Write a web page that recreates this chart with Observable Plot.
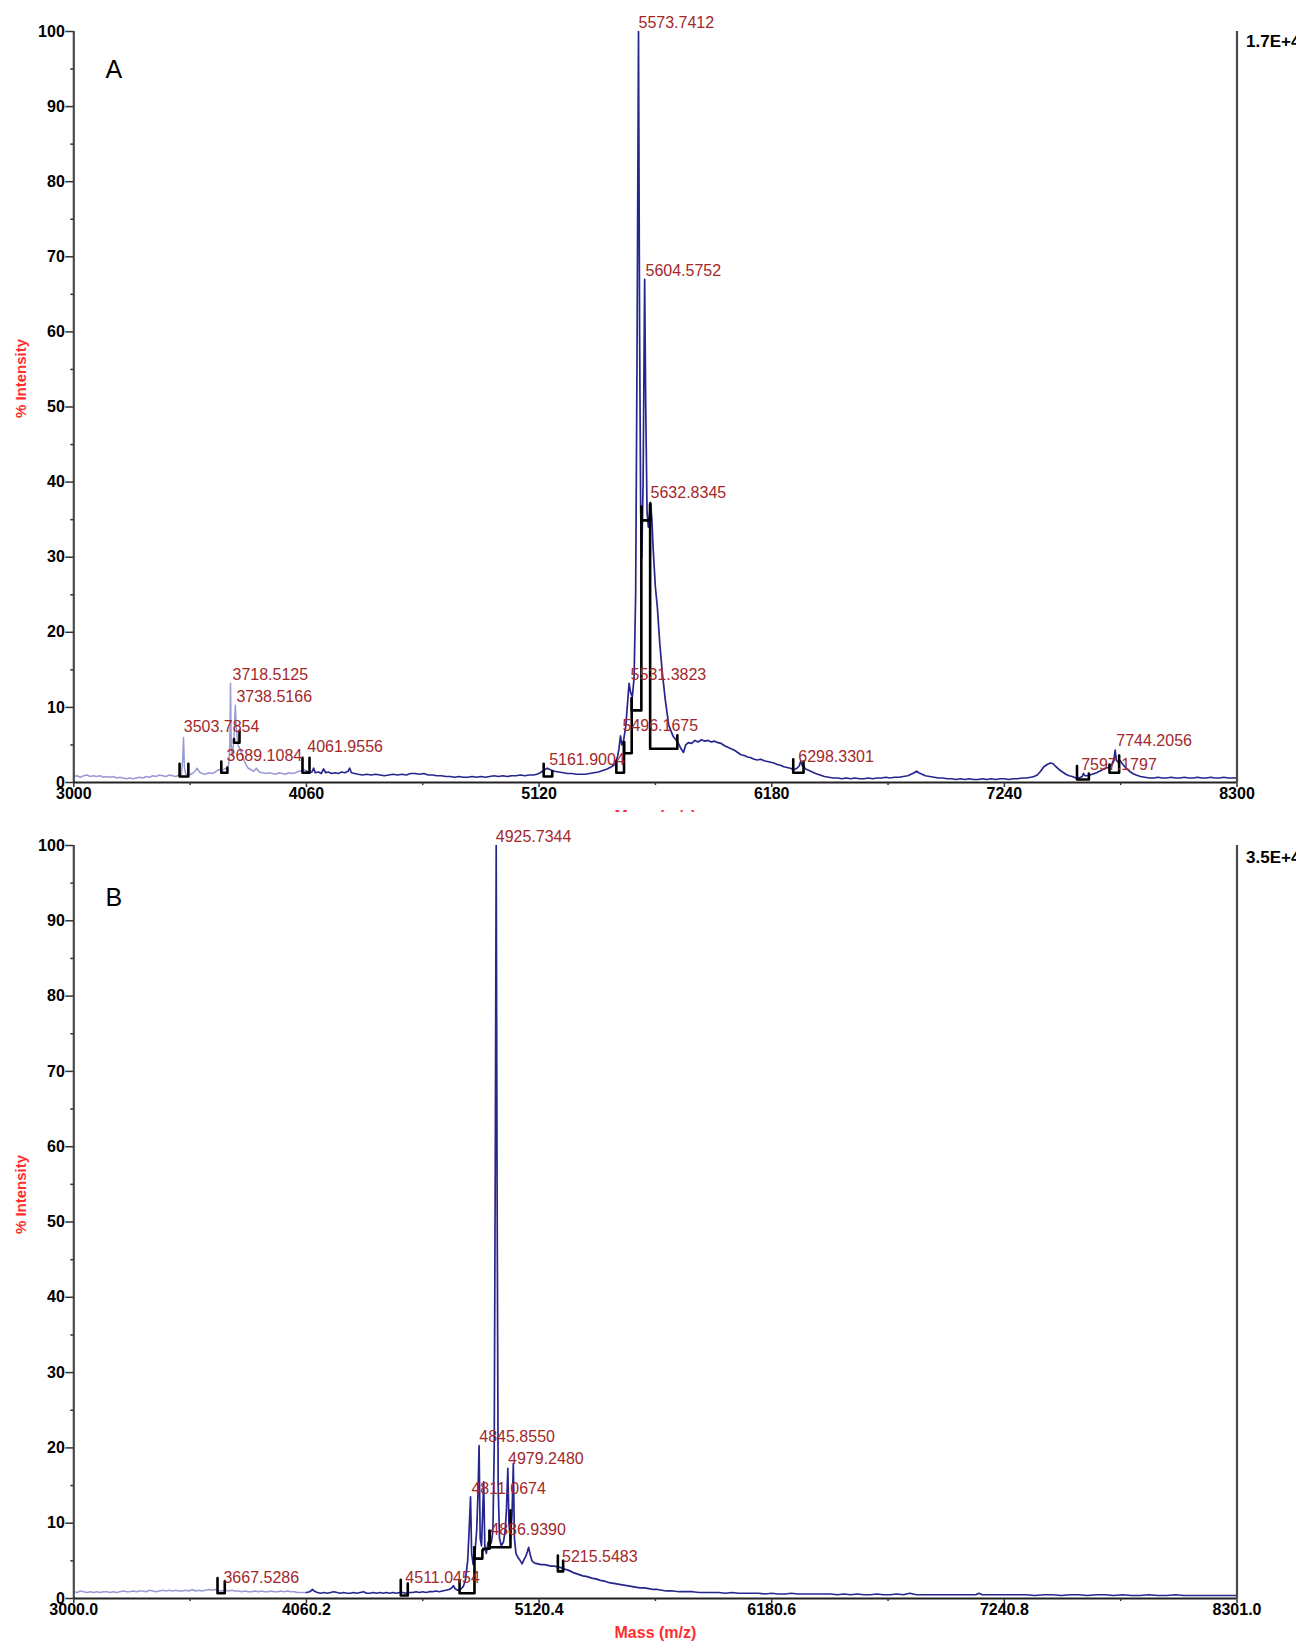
<!DOCTYPE html>
<html><head><meta charset="utf-8">
<script src="https://cdn.jsdelivr.net/npm/d3@7"></script>
<script src="https://cdn.jsdelivr.net/npm/@observablehq/plot@0.6"></script>
<style>
html,body{margin:0;padding:0;background:#fff;overflow:hidden;width:1296px;}
svg{display:block;}
</style></head><body><div id="chart"></div>
<script>
// ---------- axis values ----------
const yMajor = [0,10,20,30,40,50,60,70,80,90,100];
const yMinor = [5,15,25,35,45,55,65,75,85,95];
const xMajorA = [3000,4060,5120,6180,7240,8300];
const xLabelsA = ["3000","4060","5120","6180","7240","8300"];
const xMinorA = [3530,4590,5650,6710,7770];
const xMajorB = [3000,4060.2,5120.4,6180.6,7240.8,8301];
const xLabelsB = ["3000.0","4060.2","5120.4","6180.6","7240.8","8301.0"];
const xMinorB = [3530.1,4590.3,5650.5,6710.7,7770.9];
const yTitle = "% Intensity";
const xTitle = "Mass (m/z)";

// ---------- panel A spectrum ----------
const massA = [3000,3015,3030,3045,3060,3075,3090,3105,3120,3135,3150,3165,3180,3195,3210,3225,3240,3255,3270,3285,3300,3315,3330,3345,3360,3375,3390,3405,3420,3435,3450,3465,3480,3490,3496,3500,3504,3510,3525,3540,3552,3562,3572,3585,3600,3615,3630,3645,3660,3672,3685,3698,3706,3711,3714,3717,3722,3730,3736,3740,3748,3760,3772,3784,3795,3808,3820,3832,3845,3860,3875,3890,3905,3920,3935,3950,3965,3980,3995,4010,4025,4040,4050,4060,
4072,4085,4093,4100,4115,4128,4138,4148,4160,4175,4190,4205,4220,4235,4250,4257,4265,4280,4295,4315,4335,4355,4375,4395,4415,4435,4455,4475,4495,4515,4535,4555,4575,4595,4615,4635,4655,4675,4695,4715,4735,4755,4775,4795,4815,4835,4855,4875,4895,4915,4935,4955,4975,4995,5015,5035,5055,5075,5095,5110,5125,5140,5157,5172,5190,5210,5230,5250,5270,5290,5310,5330,5350,5370,5390,5410,5430,5450,5465,5478,5484,5491,5497,5505,5515,5523,5530,5537,5545,5553,5560,5566,5573,5578,5583,5588,5594,5601,5606,5612,5618,5624,5628,5634,5640,5650,5659,5670,5682,5695,5711,5730,5751,5765,5778,5788,5800,5815,5830,5845,5860,5875,5890,5905,5920,5935,5950,5965,5980,5995,6010,6025,6040,6055,6070,6085,6100,6115,6130,6145,6160,6175,6190,6205,6220,6235,6250,6265,6280,6295,6305,6312,6320,6335,6350,6365,6380,6400,6420,6440,6460,6480,6500,6520,6540,6560,6580,6600,6620,6640,6660,6680,6700,6720,6740,6760,6780,6800,6815,6830,6840,6850,6865,6880,6900,6920,6940,6960,6980,7000,7020,7040,7060,7080,7100,7120,7140,7160,7180,7200,7220,7240,7260,7280,7300,7320,7340,7360,7375,7390,7405,7420,7435,7450,7462,7475,7490,7505,7520,7535,7550,7565,7580,7595,7600,7608,7620,7640,7660,7680,7700,7715,7730,7740,7745,7750,7758,7768,7780,7795,7810,7825,7840,7860,7880,7900,7920,7940,7960,7980,8000,8020,8040,8060,8080,8100,8120,8140,8160,8180,8200,8220,8240,8260,8280,8300];
const intA = [0.8,0.9,0.7,0.9,1.0,0.8,0.9,0.8,0.9,0.7,0.8,0.7,0.8,0.6,0.7,0.6,0.5,0.6,0.5,0.6,0.7,0.6,0.8,0.7,0.9,0.8,1.0,0.9,0.8,1.0,0.9,0.8,1.0,1.0,3.0,6.0,2.0,1.1,1.0,1.2,1.5,1.9,1.4,1.2,1.1,1.3,1.2,1.4,1.7,1.5,1.8,1.9,2.4,5.0,13.2,5.0,3.5,6.0,10.3,7.5,5.0,4.3,3.2,2.4,1.9,1.7,1.5,1.9,1.4,1.3,1.2,1.3,1.2,1.1,1.3,1.2,1.1,1.3,1.2,1.3,1.5,1.6,1.7,1.5,
1.3,1.4,1.9,1.3,1.4,1.2,1.8,1.3,1.4,1.2,1.3,1.2,1.4,1.3,1.5,1.9,1.3,1.2,1.1,1.0,1.1,1.0,1.1,1.0,0.9,1.0,1.1,1.0,1.1,1.0,1.2,1.2,1.1,1.2,1.0,1.0,0.9,0.9,0.8,0.8,0.7,0.8,0.7,0.7,0.8,0.7,0.8,0.7,0.8,0.9,0.8,0.9,0.8,0.9,0.9,1.0,0.9,1.0,1.0,1.1,1.3,1.6,1.9,1.7,1.5,1.4,1.3,1.2,1.2,1.1,1.1,1.1,1.2,1.3,1.4,1.6,1.8,2.1,2.4,3.5,4.5,6.2,5.0,5.6,7.5,10.5,13.2,12.0,11.4,14.0,25,55,100,60,36,30,40,67,50,36,34,36,37.3,35,31,26,23.3,18.5,14.5,11,7.6,6.2,5.4,4.6,4.0,5.0,5.3,5.2,5.6,5.4,5.7,5.5,5.6,5.4,5.5,5.3,5.2,4.9,4.7,4.5,4.3,4.0,3.7,3.6,3.4,3.3,3.1,3.0,3.1,2.9,2.8,2.7,2.6,2.4,2.3,2.1,2.0,1.9,1.7,1.9,2.2,2.8,2.2,1.8,1.6,1.4,1.2,1.0,0.8,0.7,0.6,0.6,0.5,0.6,0.5,0.6,0.5,0.5,0.6,0.5,0.6,0.6,0.7,0.6,0.7,0.7,0.8,0.9,1.1,1.3,1.5,1.3,1.1,0.9,0.8,0.7,0.6,0.6,0.5,0.5,0.4,0.5,0.4,0.5,0.4,0.4,0.5,0.4,0.5,0.4,0.5,0.5,0.4,0.5,0.5,0.6,0.6,0.7,0.8,1.0,1.5,2.1,2.4,2.6,2.5,2.1,1.7,1.4,1.1,0.9,0.8,0.6,0.6,0.8,1.2,0.9,0.9,1.1,1.3,1.6,1.9,2.0,2.4,3.2,4.3,3.0,2.7,2.9,2.4,1.9,1.5,1.2,1.0,0.8,0.7,0.6,0.6,0.7,0.6,0.6,0.7,0.6,0.6,0.7,0.6,0.6,0.7,0.6,0.6,0.7,0.6,0.6,0.7,0.6,0.6,0.6];

// peak annotations A
const labelsA = ["3503.7854","3689.1084","3718.5125","3738.5166","4061.9556","5161.9004","5496.1675","5531.3823","5573.7412","5604.5752","5632.8345","6298.3301","7597.1797","7744.2056"];
const labelMassA = [3501,3696,3723,3741,4064,5166,5500,5537,5573,5605,5628,6301,7590,7750];
const labelIntA  = [6.7,2.9,13.7,10.7,4.0,2.3,6.9,13.7,100.5,67.5,37.9,2.7,1.65,4.9];
// integration brackets A: [left, right, base, topLeft, topRight]
const bracketsA = [[3482,3522,0.8,2.5,2.5],[3672,3700,1.3,2.8,2.0],[3730,3755,5.3,5.8,6.9],[4042,4074,1.3,3.3,3.3],[5141,5180,0.8,2.5,1.5],[5472,5507,1.3,2.9,5.4],[5507,5542,3.9,5.4,11.2],[5542,5586,9.6,11.2,36.7],[5586,5626,34.9,36.7,37.1],[5626,5750,4.5,37.1,6.3],[6278,6325,1.3,3.1,2.8],[7571,7625,0.4,2.2,1.2],[7719,7763,1.3,2.4,3.6]];

// ---------- panel B spectrum ----------
const massB = [3000,3015,3030,3045,3060,3075,3090,3105,3120,3135,3150,3165,3180,3195,3210,3225,3240,3255,3270,3285,3300,3315,3330,3345,3360,3375,3390,3405,3420,3435,3450,3465,3480,3495,3510,3525,3540,3555,3570,3585,3600,3615,3630,3645,3660,3675,3690,3705,3720,3735,3750,3765,3780,3795,3810,3825,3840,3855,3870,3885,3900,3915,3930,3945,3960,3975,3990,4005,4020,4035,4050,4060,
4075,4088,4095,4110,4125,4140,4155,4170,4185,4200,4215,4230,4245,4260,4275,4290,4305,4320,4335,4350,4365,4380,4395,4410,4425,4440,4455,4470,4485,4500,4515,4530,4545,4560,4575,4590,4605,4620,4635,4650,4665,4680,4695,4710,4722,4730,4738,4750,4762,4775,4785,4795,4803,4808,4813,4820,4828,4836,4842,4847,4852,4858,4864,4868,4873,4880,4888,4895,4903,4910,4916,4921,4925,4929,4934,4940,4948,4958,4966,4972,4978,4983,4990,4997,5003,5008,5015,5025,5035,5043,5052,5060,5067,5073,5080,5088,5100,5115,5130,5145,5160,5175,5190,5205,5220,5235,5250,5265,5280,5300,5320,5340,5360,5380,5400,5420,5440,5460,5480,5500,5520,5540,5560,5580,5600,5620,5640,5660,5680,5700,5730,5760,5790,5820,5850,5880,5910,5940,5970,6000,6030,6060,6090,6120,6150,6180,6210,6240,6270,6300,6330,6360,6390,6420,6450,6480,6510,6540,6570,6600,6630,6660,6690,6720,6750,6780,6810,6825,6840,6870,6900,6930,6960,6990,7020,7050,7080,7110,7125,7140,7170,7200,7230,7260,7300,7340,7380,7420,7460,7500,7540,7580,7620,7660,7700,7740,7780,7820,7860,7900,7940,7980,8020,8060,8100,8140,8180,8220,8260,8301];
const intB = [0.9,0.8,1.0,0.9,0.8,0.9,0.8,0.9,0.8,0.9,0.9,0.8,0.9,0.8,0.9,1.0,0.9,0.9,1.0,0.9,1.0,1.0,0.9,1.1,1.0,0.9,1.0,1.1,1.0,1.1,1.0,1.1,1.0,1.0,1.1,1.0,1.2,1.0,1.1,1.0,1.1,1.2,1.1,1.2,1.0,1.0,1.1,1.0,1.1,1.0,1.0,0.9,1.0,0.9,0.9,1.0,0.9,1.0,0.9,0.9,1.0,0.9,0.9,1.0,0.9,1.0,0.9,0.9,0.8,0.8,0.8,0.8,
0.9,1.2,1.0,0.8,0.7,0.8,0.7,0.8,0.9,0.8,0.7,0.8,0.7,0.7,0.8,0.7,0.8,0.9,0.7,0.7,0.8,0.7,0.8,0.7,0.8,0.7,0.8,0.7,0.8,0.8,0.7,0.8,0.8,0.9,0.8,0.9,0.8,0.9,0.9,1.0,0.9,1.0,1.1,1.2,1.4,1.7,1.3,1.1,1.2,1.6,2.5,5.0,10,13.5,6,4.5,6,9,14,20.3,8,7,12,15.5,7,6,7.5,7,7.5,9,20,60,100,55,15,8,7,7.5,9,12,17.3,10,8,11,17.9,8,6,5.4,5.0,4.6,5.2,5.6,6.2,6.8,5.8,5.0,4.7,4.6,4.5,4.5,4.4,4.3,4.3,4.2,4.1,3.9,3.8,3.6,3.4,3.2,3.0,2.9,2.7,2.6,2.4,2.3,2.1,2.0,1.9,1.8,1.7,1.6,1.5,1.4,1.4,1.3,1.2,1.2,1.1,1.0,1.0,0.9,0.9,0.9,0.8,0.8,0.8,0.8,0.7,0.8,0.7,0.7,0.7,0.7,0.6,0.7,0.6,0.6,0.7,0.6,0.6,0.6,0.6,0.6,0.6,0.5,0.6,0.5,0.6,0.5,0.5,0.6,0.5,0.5,0.6,0.5,0.7,0.6,0.5,0.5,0.5,0.5,0.5,0.5,0.5,0.5,0.5,0.5,0.7,0.5,0.5,0.5,0.5,0.5,0.5,0.5,0.4,0.5,0.5,0.4,0.5,0.5,0.4,0.5,0.5,0.4,0.5,0.4,0.4,0.5,0.4,0.4,0.5,0.4,0.4,0.4,0.4,0.4,0.4,0.4];

const labelsB = ["3667.5286","4511.0454","4811.0674","4845.8550","4886.9390","4925.7344","4979.2480","5215.5483"];
const labelMassB = [3682,4511,4812,4848,4898,4923,4979,5225];
const labelIntB  = [2.0,2.1,13.9,20.8,8.4,100.5,17.9,4.8];
const bracketsB = [[3655,3688,0.7,2.7,2.3],[4490,4522,0.4,2.5,2.0],[4758,4826,0.7,2.4,6.8],[4826,4862,5.3,6.8,6.4],[4866,4895,6.6,6.4,9.0],[4895,4990,6.8,9.0,11.7],[5206,5230,3.6,5.7,5.0]];

const BLUE = "#26268e", LIGHT = "#9a9ad4", RED_LABEL = "#a3282c", RED_TITLE = "#ff2d2d";

function makePanel(cfg) {
  const spec = cfg.mass.map((m, i) => ({m, v: cfg.inten[i]}));
  const light = spec.filter(d => d.m <= 4060);
  const dark = spec.filter(d => d.m >= 4060);
  const br = cfg.brackets.flatMap((b, k) => [
    {m: b[0], v: b[3], k}, {m: b[0], v: b[2], k}, {m: b[1], v: b[2], k}, {m: b[1], v: b[4], k}]);
  const labs = cfg.labels.map((t, i) => ({t, m: cfg.labelM[i], v: cfg.labelV[i]}));
  const x0 = cfg.xMajor[0], x1 = cfg.xMajor[cfg.xMajor.length - 1];
  return Plot.plot({
    width: 1296, height: cfg.height,
    marginLeft: 73.3, marginRight: 59.5, marginTop: cfg.top, marginBottom: cfg.height - cfg.bottom,
    x: {domain: [x0, x1]}, y: {domain: [0, 100]},
    style: {fontFamily: "'Liberation Sans', Arial, sans-serif", background: "#fff", color: "#000", overflow: "hidden"},
    marks: [
      Plot.line(light, {x: "m", y: "v", stroke: LIGHT, strokeWidth: 1.5}),
      Plot.line(dark, {x: "m", y: "v", stroke: BLUE, strokeWidth: 1.7}),
      Plot.line(br, {x: "m", y: "v", z: "k", stroke: "#000", strokeWidth: 2.6, curve: "linear"}),
      Plot.text(labs, {x: "m", y: "v", text: "t", textAnchor: "start", lineAnchor: "bottom", fill: RED_LABEL, fontSize: 16}),
      Plot.ruleX([x0], {stroke: "#4a4a4a", strokeWidth: 2.2}),
      Plot.ruleX([x1], {stroke: "#4a4a4a", strokeWidth: 2.2}),
      Plot.ruleY([0], {stroke: "#222", strokeWidth: 2.2}),
      Plot.axisY({ticks: yMajor, tickSize: 8, tickPadding: 1, fontSize: 16, fontWeight: "bold", label: null, stroke: "#333", strokeWidth: 1.5}),
      Plot.axisY({ticks: yMinor, tickSize: 3, tickFormat: () => "", label: null, stroke: "#333", strokeWidth: 1.5}),
      Plot.axisX({ticks: cfg.xMajor, tickFormat: (d, i) => cfg.xLabels[i], tickSize: 5, tickPadding: 0, fontSize: 16, fontWeight: "bold", label: null, stroke: "#333", strokeWidth: 1.5}),
      Plot.axisX({ticks: cfg.xMinor, tickSize: 3, tickFormat: () => "", label: null, stroke: "#333", strokeWidth: 1.5}),
      Plot.text([cfg.letter], {frameAnchor: "top-left", dx: 40, dy: cfg.letterDy, fontSize: 25, textAnchor: "middle", lineAnchor: "middle"}),
      Plot.text([cfg.scale], {frameAnchor: "top-right", dx: 9, dy: cfg.scaleDy, textAnchor: "start", lineAnchor: "bottom", fontWeight: "bold", fontSize: 17}),
      Plot.text([yTitle], {frameAnchor: "left", dx: -53, dy: cfg.titleDy, rotate: -90, fill: RED_TITLE, fontWeight: "bold", fontSize: 15, textAnchor: "middle", lineAnchor: "middle"}),
      Plot.text([xTitle], {frameAnchor: "bottom", dy: 34, fill: RED_TITLE, fontWeight: "bold", fontSize: 16, textAnchor: "middle", lineAnchor: "middle"})
    ]
  });
}

const chart = document.getElementById("chart");
chart.append(makePanel({
  height: 812, top: 31, bottom: 782, mass: massA, inten: intA,
  labels: labelsA, labelM: labelMassA, labelV: labelIntA, brackets: bracketsA,
  xMajor: xMajorA, xLabels: xLabelsA, xMinor: xMinorA,
  letter: "A", letterDy: 38, scale: "1.7E+4", scaleDy: 15, titleDy: -28.5
}));
chart.append(makePanel({
  height: 831, top: 33, bottom: 786, mass: massB, inten: intB,
  labels: labelsB, labelM: labelMassB, labelV: labelIntB, brackets: bracketsB,
  xMajor: xMajorB, xLabels: xLabelsB, xMinor: xMinorB,
  letter: "B", letterDy: 52, scale: "3.5E+4", scaleDy: 17, titleDy: -27.5
}));
</script></body></html>
